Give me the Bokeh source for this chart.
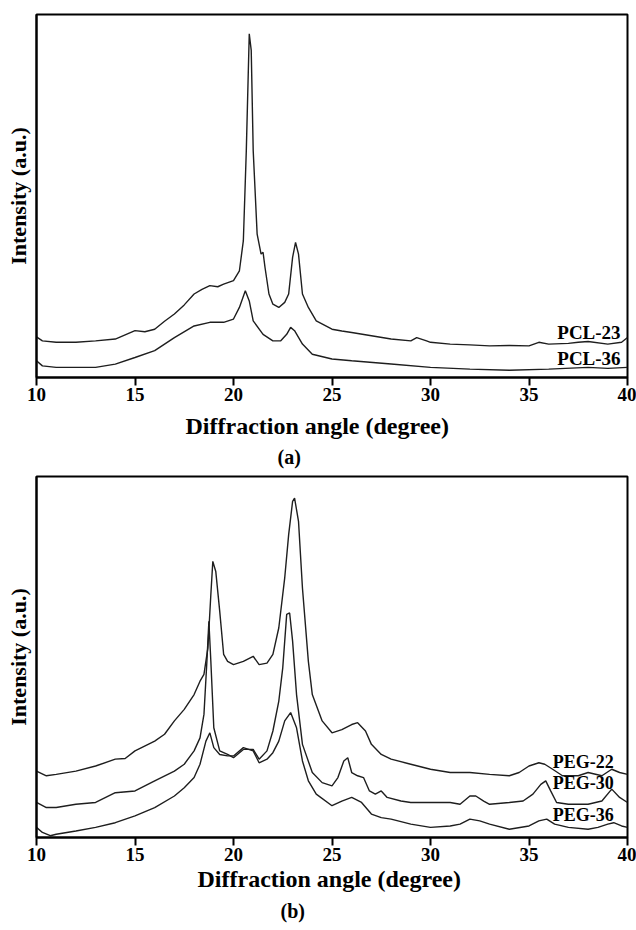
from bokeh.plotting import figure
from bokeh.layouts import column
from bokeh.models import Title, Range1d, FixedTicker
from bokeh.core.properties import value
from bokeh.embed import file_html
from bokeh.resources import INLINE

# ---------------- data ----------------
x_ticks = [10, 15, 20, 25, 30, 35, 40]

pcl23_angle = [10, 10.3, 11, 12, 13, 14, 15, 15.5, 16, 16.5, 17, 17.5, 18, 18.4, 18.8, 19.2, 19.5, 20,
               20.3, 20.5, 20.65, 20.8, 20.9, 21.0, 21.2, 21.4, 21.5, 21.6, 21.8, 22.0, 22.3, 22.6,
               22.8, 23.0, 23.15, 23.3, 23.5, 23.8, 24.2, 25, 25.5, 26, 27, 28, 29, 29.3, 29.8,
               30, 31, 32, 33, 34, 35, 35.5, 36, 37, 37.5, 38, 39, 39.7, 40]
pcl23_int = [11.2, 10.1, 9.7, 9.7, 10.1, 10.6, 12.9, 12.6, 13.3, 15.5, 17.5, 20.0, 23.0, 24.3, 25.3, 25.0,
             25.7, 26.7, 29.4, 37.7, 62.5, 94.7, 90.1, 62.5, 39.5, 34.0, 34.5, 30.3, 23.0, 20.2, 19.3,
             20.7, 23.0, 33.1, 37.2, 34.0, 23.0, 19.3, 15.6, 13.3, 12.8, 12.4, 11.5, 10.6, 10.1, 11.0,
             10.1, 9.7, 9.2, 9.0, 8.7, 8.8, 8.7, 9.7, 9.2, 9.4, 9.7, 9.9, 9.2, 9.7, 11.0]

pcl36_angle = [10, 10.3, 11, 12, 13, 14, 15, 16, 17, 18, 18.8, 19.5, 20, 20.3, 20.6, 20.8, 21.0,
               21.5, 22.0, 22.4, 22.7, 22.9, 23.1, 23.5, 24, 25, 26, 28, 30, 32, 34, 36, 38, 39, 40]
pcl36_int = [4.6, 3.2, 2.8, 2.8, 2.8, 3.7, 5.5, 7.4, 11.0, 14.2, 15.2, 15.2, 16.1, 19.3, 23.9, 21.1,
             15.6, 11.9, 10.1, 10.1, 11.9, 13.8, 12.9, 9.2, 6.4, 5.1, 4.6, 3.7, 2.8, 2.3, 2.0, 2.3,
             2.8, 2.5, 2.8]

peg22_angle = [10, 10.5, 11, 12, 13, 14, 14.5, 15, 16, 16.5, 17, 17.5, 18, 18.3, 18.5, 18.7, 18.85,
               18.95, 19.1, 19.3, 19.5, 19.7, 20, 20.5, 21, 21.3, 21.7, 22.0, 22.3, 22.6, 22.8, 23.0,
               23.1, 23.3, 23.5, 23.8, 24.0, 24.5, 25.0, 25.5, 26.0, 26.3, 26.7, 27.0, 27.5, 28, 29,
               30, 31, 32, 33, 34, 34.5, 35, 35.5, 35.8, 36.2, 36.7, 37.5, 38, 38.7, 39.2, 39.6, 40]
peg22_int = [18.4, 17.1, 17.5, 18.4, 19.8, 21.7, 21.9, 24.0, 26.7, 28.6, 32.3, 35.5, 39.6, 43.3,
             45.2, 52.5, 67.3, 76.5, 73.7, 62.7, 50.7, 48.8, 47.9, 48.8, 50.2, 47.9, 48.3, 50.7,
             58.1, 71.9, 83.9, 93.1, 94.0, 87.6, 69.1, 48.8, 39.6, 32.3, 29.0, 29.9, 31.3, 31.8,
             29.5, 25.8, 23.0, 21.7, 20.3, 18.9, 18.0, 18.0, 17.5, 17.1, 18.0, 19.8, 20.7, 20.3,
             18.9, 17.1, 17.1, 18.0, 17.1, 18.9, 18.0, 17.5]

peg30_angle = [10, 10.5, 11, 12, 13, 14, 15, 16, 17, 17.5, 18, 18.3, 18.5, 18.65, 18.75, 18.85, 19.0,
               19.3, 19.7, 20, 20.5, 21, 21.3, 21.7, 22.0, 22.3, 22.5, 22.7, 22.85, 23.0, 23.2, 23.5,
               24.0, 24.5, 25.0, 25.3, 25.6, 25.8, 26.0, 26.3, 26.6, 26.9, 27.2, 27.5, 27.8, 28.5,
               29, 30, 31, 31.5, 32.0, 32.3, 32.7, 33, 34, 34.7, 35.2, 35.6, 35.85, 36.1, 36.4, 37,
               38, 38.7, 39.2, 39.6, 40]
peg30_int = [9.7, 8.3, 8.3, 9.2, 9.7, 12.4, 12.9, 15.7, 18.4, 20.3, 24.0, 27.6, 34.1, 48.8, 59.9,
             48.8, 30.4, 24.0, 23.0, 22.1, 24.4, 24.4, 21.7, 24.0, 29.5, 37.8, 47.0, 61.8, 62.2,
             54.4, 39.6, 25.8, 18.0, 15.2, 14.3, 16.6, 21.2, 22.1, 18.0, 17.1, 16.6, 12.9, 12.0,
             12.9, 11.1, 10.1, 9.7, 9.7, 9.7, 9.2, 11.5, 11.5, 10.1, 9.2, 9.7, 10.1, 12.0, 14.7,
             15.7, 12.9, 9.7, 9.2, 9.2, 10.1, 13.4, 11.1, 9.7]

peg36_angle = [10, 10.3, 10.7, 11, 12, 13, 14, 15, 16, 17, 17.5, 18.0, 18.3, 18.6, 18.8, 19.0, 19.3,
               19.7, 20, 20.5, 21, 21.3, 21.7, 22.0, 22.3, 22.6, 22.9, 23.2, 23.5, 23.8, 24.2, 25,
               25.5, 26, 26.5, 27.0, 27.5, 28, 29, 30, 31, 31.5, 32.0, 32.5, 33, 34, 35, 35.5, 35.9,
               36.3, 37, 38, 38.5, 39, 39.3, 39.7, 40]
peg36_int = [2.8, 1.4, 0.5, 0.9, 1.8, 2.8, 4.1, 6.0, 8.3, 11.5, 13.8, 16.6, 20.3, 26.7, 29.0, 24.9,
             23.0, 22.6, 22.6, 24.9, 24.0, 20.7, 21.7, 23.5, 26.7, 32.3, 34.6, 30.4, 21.2, 15.7,
             12.0, 8.8, 10.1, 11.1, 9.7, 6.5, 5.5, 5.1, 3.7, 2.8, 3.2, 3.7, 5.1, 4.6, 3.7, 2.3, 3.2,
             4.6, 5.1, 3.7, 2.8, 2.3, 2.8, 3.7, 4.1, 3.2, 2.8]

pcl_names = ["PCL-23", "PCL-36"]
pcl_label_angle = [39.65, 39.65]
pcl_label_int = [12.5, 5.2]

peg_names = ["PEG-22", "PEG-30", "PEG-36"]
peg_label_angle = [39.3, 39.3, 39.3]
peg_label_int = [20.8, 15.2, 6.1]

x_title = "Diffraction angle (degree)"
y_title = "Intensity (a.u.)"

FONT = "Liberation Serif"
LINE = "#1e1e1e"


def make_panel(series, names, lab_x, lab_y, tag, height, top, bottom, xt_offset, tag_offset,
               s1, s2, lab_size):
    p = figure(width=636, height=height, x_range=Range1d(10, 40), y_range=Range1d(0, 100),
               output_backend="svg", toolbar_location=None,
               min_border_left=36, min_border_right=9, min_border_top=top, min_border_bottom=bottom)
    p.xgrid.visible = False
    p.ygrid.visible = False
    p.outline_line_color = "black"
    p.outline_line_width = 2
    p.background_fill_color = "white"
    p.border_fill_color = "white"

    xa = p.xaxis[0]
    xa.ticker = FixedTicker(ticks=x_ticks)
    xa.axis_line_width = 2
    xa.axis_line_color = "black"
    xa.major_tick_in = 0
    xa.major_tick_out = 8
    xa.major_tick_line_width = 2
    xa.major_tick_line_color = "black"
    xa.minor_tick_in = 0
    xa.minor_tick_out = 0
    xa.major_label_standoff = 2
    xa.major_label_text_font = FONT
    xa.major_label_text_font_style = "bold"
    xa.major_label_text_font_size = "19px"
    xa.major_label_text_color = "black"

    ya = p.yaxis[0]
    ya.ticker = FixedTicker(ticks=[])
    ya.axis_line_width = 2
    ya.axis_line_color = "black"
    ya.major_tick_in = 0
    ya.major_tick_out = 0
    ya.minor_tick_in = 0
    ya.minor_tick_out = 0
    ya.major_label_standoff = 0
    ya.axis_label = y_title
    ya.axis_label_standoff = 6
    ya.axis_label_text_font = FONT
    ya.axis_label_text_font_style = "bold"
    ya.axis_label_text_font_size = "22px"
    ya.axis_label_text_color = "black"

    for xs, ys in series:
        p.line(xs, ys, line_color=LINE, line_width=1.4)

    p.text(x=lab_x, y=lab_y, text=names, text_align="right", text_baseline="middle",
           text_font=value(FONT), text_font_style="bold", text_font_size=lab_size,
           text_color="black")

    t1 = Title(text=x_title, align="left", offset=xt_offset, text_font=FONT,
               text_font_style="bold", text_font_size="24px", text_color="black", standoff=s1)
    t2 = Title(text=tag, align="left", offset=tag_offset, text_font=FONT,
               text_font_style="bold", text_font_size="20px", text_color="black", standoff=s2)
    p.add_layout(t1, "below")
    p.add_layout(t2, "below")
    return p


pa = make_panel([(pcl23_angle, pcl23_int), (pcl36_angle, pcl36_int)], pcl_names,
                pcl_label_angle, pcl_label_int, "(a)", 470, 14, 93, 149, 241, 14, -4, "19px")
pb = make_panel([(peg22_angle, peg22_int), (peg30_angle, peg30_int), (peg36_angle, peg36_int)],
                peg_names, peg_label_angle, peg_label_int, "(b)", 460, 6, 93, 161, 244, 1, 10, "18px")

layout = column(pa, pb, spacing=0)
open("out.html", "w").write(file_html(layout, INLINE))
